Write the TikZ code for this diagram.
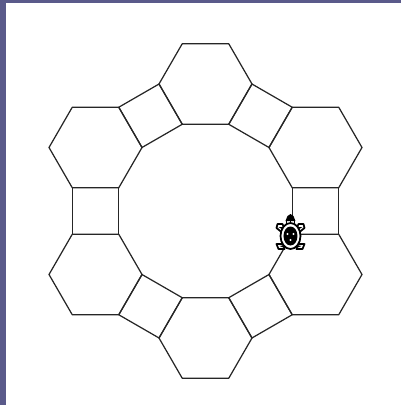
\documentclass[tikz,border=0pt]{standalone}
\usetikzlibrary{calc}
\definecolor{bandblue}{HTML}{5A5A8A}
\tikzset{
  ringline/.style={line width=0.7pt, line join=round, draw=black!85},
  turtleline/.style={line width=1pt, line join=round, draw=black, fill=white},
}

\begin{document}
\begin{tikzpicture}[scale=0.02]
\useasboundingbox (0,0) rectangle (401,405);
% bands on the left and at the top
\fill[bandblue] (0,0) rectangle (6,405);
\fill[bandblue] (0,402) rectangle (401,405);

% ring: six hexagons, all with a flat top
\begin{scope}[shift={(205.5,194)}]
\foreach \a in {30,90,...,330} {
  \draw[ringline] ($(\a:127)+(0:46.5)$) -- ($(\a:127)+(60:46.5)$) -- ($(\a:127)+(120:46.5)$)
    -- ($(\a:127)+(180:46.5)$) -- ($(\a:127)+(240:46.5)$) -- ($(\a:127)+(300:46.5)$) -- cycle;
}
% squares between the hexagons
\foreach \a in {0,60,...,300} {
  \begin{scope}[rotate=\a]
  \draw[ringline] (86.77,-23.25) rectangle (133.27,23.25);
  \end{scope}
}
\end{scope}

% turtle, head up
\begin{scope}[shift={(290.5,170)}]
% feet
\draw[turtleline] (-9,3) -- (-14,7) -- (-13,11) -- (-8,11) -- (-6,6) -- cycle;
\draw[turtleline] (9,3) -- (14,7) -- (13,11) -- (8,11) -- (6,6) -- cycle;
\draw[turtleline] (-7,-9) -- (-14,-9) -- (-12,-14) -- (-6,-14) -- cycle;
\draw[turtleline] (7,-9) -- (14,-9) -- (12,-14) -- (6,-14) -- cycle;
\fill (-12,8) -- (-7,5) -- (-7,8) -- cycle;
\fill (12,8) -- (7,5) -- (7,8) -- cycle;
\fill (-11,-11) -- (-6,-10) -- (-6,-13) -- cycle;
\fill (11,-11) -- (6,-10) -- (6,-13) -- cycle;
% head
\draw[turtleline] (-4,9) -- (-4,15) -- (4,15) -- (4,9) -- cycle;
\draw[line width=1pt] (0,9) -- (0,15);
\fill (-5,14) -- (-3,19) -- (0,21) -- (3,19) -- (5,14) -- cycle;
% shell
\draw[turtleline] (0,-1) ellipse (10 and 13);
\fill (0,-1) ellipse (7 and 9.5);
\fill[white] (-3,1) circle (1.2);
\fill[white] (3,1) circle (1.2);
\fill[white] (0,-5) circle (1.2);
\end{scope}
\end{tikzpicture}
\end{document}
